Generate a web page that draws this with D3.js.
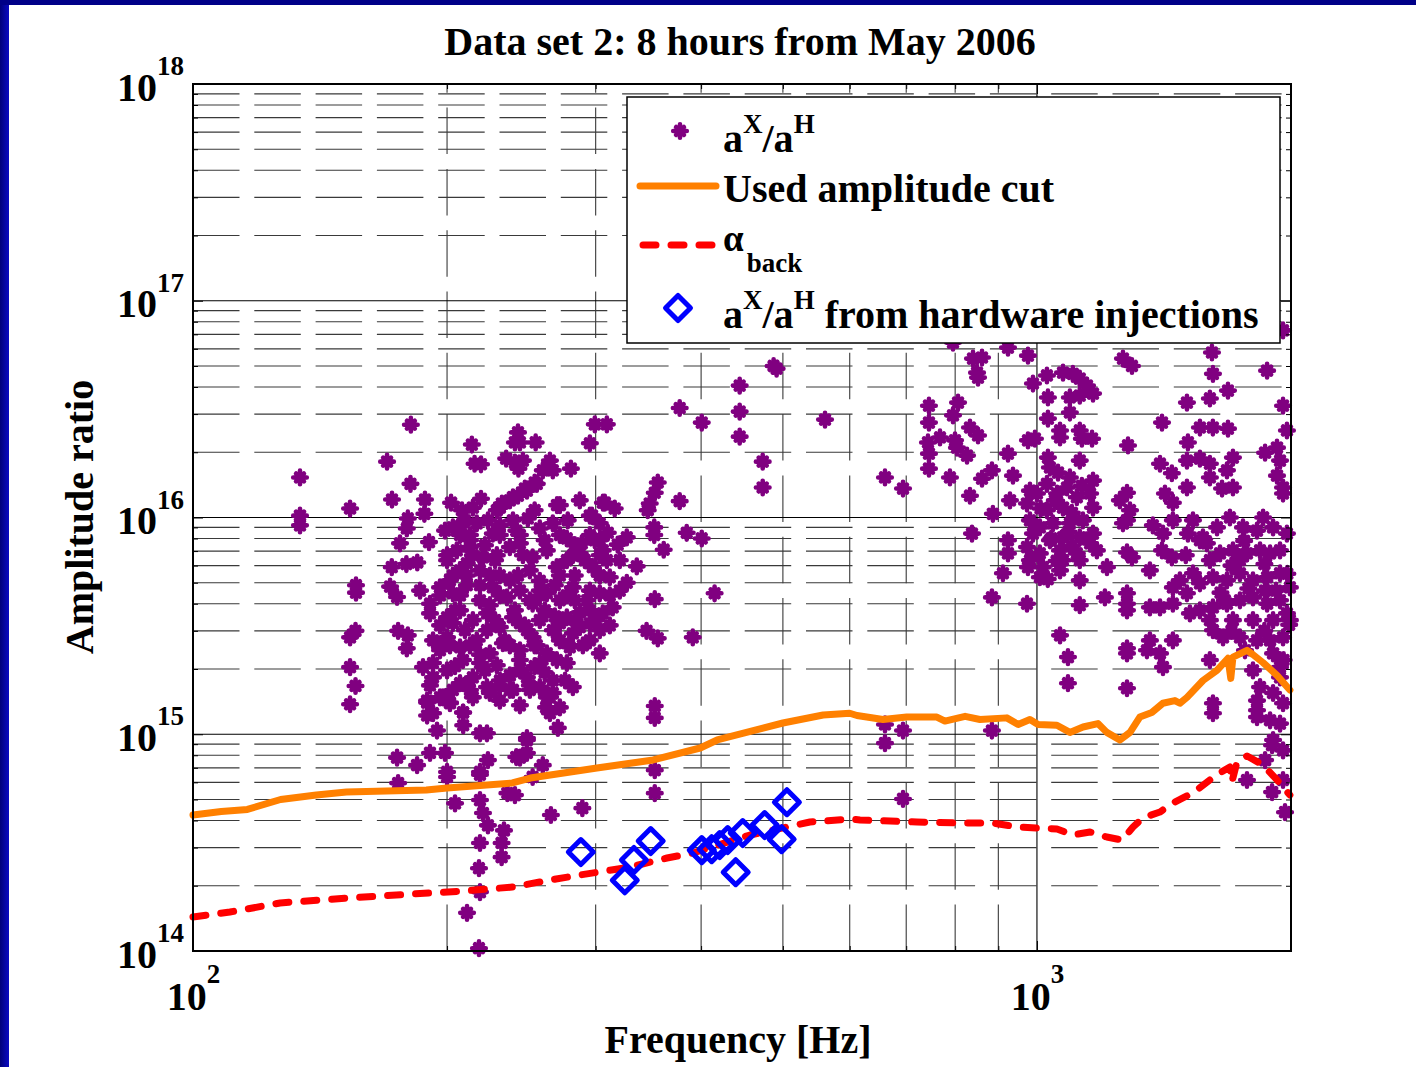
<!DOCTYPE html>
<html><head><meta charset="utf-8">
<script src="https://cdn.jsdelivr.net/npm/d3@7"></script>
<style>
body{margin:0;background:#fff;}
svg{display:block;font-family:"Liberation Serif","Times New Roman",serif;font-weight:bold;}
</style>
</head><body>
<svg id="c" width="1416" height="1067"></svg>
<script>
// ---------------- data ----------------
const titleText = "Data set 2: 8 hours from May 2006";
const xLabelText = "Frequency [Hz]";
const yLabelText = "Amplitude ratio";
const xMajorTicks = [100, 1000];
const yMajorTicks = [1e14, 1e15, 1e16, 1e17, 1e18];
const xMinorTicks = [200, 300, 400, 500, 600, 700, 800, 900, 2000];
const yMinorMantissas = [2, 3, 4, 5, 6, 7, 8, 9];
const yDecades = [14, 15, 16, 17];

// "Used amplitude cut" [Hz, ratio]
const cutCurve = [[100,4.24e14],[108,4.4e14],[116,4.5e14],[127,5.0e14],[140,5.25e14],[152,5.41e14],[189,5.53e14],[200,5.65e14],[239,5.96e14],[251,6.28e14],[301,6.99e14],[351,7.61e14],[399,8.64e14],[418,9.41e14],[500,1.127e15],[558,1.227e15],[600,1.25e15],[612,1.22e15],[657,1.17e15],[701,1.2e15],[761,1.2e15],[778,1.15e15],[822,1.21e15],[856,1.17e15],[921,1.19e15],[950,1.11e15],[981,1.17e15],[1003,1.11e15],[1056,1.1e15],[1094,1.02e15],[1134,1.08e15],[1181,1.12e15],[1210,1.02e15],[1254,9.4e14],[1289,1.02e15],[1324,1.2e15],[1368,1.26e15],[1410,1.39e15],[1457,1.43e15],[1477,1.39e15],[1506,1.48e15],[1573,1.77e15],[1634,1.97e15],[1684,2.24e15],[1697,1.81e15],[1707,2.27e15],[1774,2.44e15],[1803,2.33e15],[1853,2.14e15],[1925,1.87e15],[1994,1.6e15]];

// alpha_back [Hz, ratio]
const backCurve = [[100,1.435e14],[110.6,1.513e14],[126.8,1.665e14],[152.2,1.756e14],[182.3,1.832e14],[208.9,1.891e14],[239.4,1.973e14],[264.8,2.126e14],[287,2.24e14],[329.5,2.44e14],[364.5,2.686e14],[391.2,2.833e14],[457.1,3.43e14],[538.3,3.937e14],[600.4,4.064e14],[617.1,4.021e14],[720.7,3.937e14],[810.2,3.895e14],[887.2,3.895e14],[946.9,3.734e14],[1000,3.694e14],[1056,3.655e14],[1103,3.43e14],[1156,3.54e14],[1210,3.357e14],[1261.5,3.252e14],[1299.7,3.734e14],[1335,4.108e14],[1398.7,4.378e14],[1449,4.818e14],[1530,5.358e14],[1603,6.152e14],[1647,6.626e14],[1693,7.064e14],[1702,6.023e14],[1726,7.447e14],[1774,7.938e14],[1853,7.214e14],[1925,6.152e14],[1994,5.245e14]];

// hardware injections [Hz, ratio]
const injections = [[288.1,2.86e14],[324.8,2.12e14],[333,2.63e14],[348.6,3.215e14],[400.7,2.92e14],[411.7,2.95e14],[420.8,3.08e14],[430.1,3.25e14],[448.1,3.5e14],[475.7,3.81e14],[498.3,3.28e14],[505.5,4.86e14],[439.6,2.31e14]];

// candidates a^X/a^H [Hz, ratio]
const candidatesLowBand = [
[133.9,1.53e16],[133.9,1.02e16],[133.9,9.2e15],[153.5,1.10e16],[169.8,1.81e16],[181.2,2.68e16],[181,1.43e16],[172.1,1.21e16],[188.3,1.21e16],[188,1.04e16],[179.7,9.9e15],[179.2,8.9e15],[175.9,7.6e15],[190.4,7.7e15],[172,5.9e15],[179,6.1e15],[184.4,6.2e15],[185.8,4.6e15],[171.2,4.8e15],[174.5,4.3e15],[156,4.87e15],[156,4.5e15],[155.8,3.0e15],[153.5,2.8e15],[175,3.0e15],[179.7,2.86e15],[179.2,2.49e15],[153.5,2.04e15],[155.8,1.67e15],[153.5,1.375e15],
[202.2,1.17e16],[214,2.17e16],[215.6,1.77e16],[219.4,1.76e16],[219.4,1.22e16],[242.7,2.47e16],[240.7,2.22e16],[244,2.22e16],[254.7,2.22e16],[235,1.87e16],[240.7,1.79e16],[246,1.83e16],[243,1.68e16],[264.8,1.83e16],[259.7,1.65e16],[266.9,1.65e16],[280.4,1.68e16],[255.5,1.43e16],[248.7,1.33e16],[242.7,1.26e16],[237.4,1.2e16],[231,1.11e16],[270,1.14e16],[295.3,2.2e16],[299.3,2.69e16],[309.3,2.69e16],[377.3,3.2e16],[400.7,2.74e16],[355.4,1.45e16],[352.5,1.3e16],[347.7,1.16e16],[345.8,1.08e16],[377.3,1.19e16],[306,1.17e16],[316,1.1e16],[297,1.02e16],[352,9.0e15],[352,8.3e15],[361.2,7.1e15],[326.6,8.1e15],[384.6,8.5e15],[400.7,8.0e15],[335.6,5.95e15],[326.6,5.0e15],[352.5,4.2e15],[344.7,3.0e15],[355.4,2.77e15],[391,2.8e15],[415,4.47e15],[303.4,2.36e15],[281.9,1.65e15],[352.5,1.35e15],[352.5,1.19e15],[270.6,1.07e15],[352.5,6.83e14],[352.5,5.35e14],[248.7,9.4e14],[244,7.8e14],[259.7,7.2e14],[223.6,7.6e14],[218.8,6.7e14],[174.5,7.8e14],[184.3,7.2e14],[190.9,8.2e14],[198.9,8.2e14],[200,6.7e14],[194.6,1.04e15],[218.8,1.01e15],[223,1.01e15],[209,1.1e15],[209,1.26e15],[189.4,1.4e15],[189.4,1.22e15],[197.8,1.48e15],[201.6,1.4e15],[262,1.33e15],[264.8,1.25e15],[264.8,1.48e15],
[289.3,4.56e14],[265.5,4.24e14],[248.7,9.6e14],[248.7,8.2e14],[241.6,7.85e14],[218.8,6.5e14],[218.8,4.97e14],[220.6,4.33e14],[223.6,3.8e14],[233.6,3.6e14],[232.1,3.15e14],[232.1,2.71e14],[218.8,3.15e14],[218.2,2.41e14],[218.8,1.87e14],[211.2,1.5e14],[218.2,1.03e14],[204.4,4.8e14],[200,6.35e14],[175,5.95e14],[235.8,5.35e14],[240.7,5.24e14],[252.6,6.35e14],
[208.3,1.08e16],[214.6,1.11e16],[229.1,1.08e16],[232.3,1.16e16],[239.4,1.24e16],[247.3,1.36e16],[254,1.45e16],[272.1,1.14e16],[295.3,1.02e16],[307.6,1.17e16],[303.4,9.4e15],
[203.2,9.0e15],[208.9,9.5e15],[216.9,9.4e15],[223.6,9.7e15],[239.4,9.7e15],[249.3,9.9e15],[257.6,8.9e15],[266.9,9.4e15],[277.3,8.0e15],[288.9,7.6e15],[299.3,7.85e15],[310.1,8.5e15],[305.9,7.05e15],
[205.4,7.05e15],[212.9,7.3e15],[220.6,6.55e15],[211.1,6.15e15],[218.8,5.7e15],[237.4,7.3e15],[244,7.6e15],[252.6,6.55e15],[262.6,7.05e15],[269.8,5.9e15],[277.3,6.35e15],[287.3,6.83e15],[297.6,5.9e15],[309.3,6.35e15],[311.8,5.3e15],
[190.9,4.0e15],[196.2,4.76e15],[203.2,4.47e15],[211.1,4.87e15],[218.8,4.15e15],[226.6,4.76e15],[235.5,4.28e15],[244,4.6e15],[252.6,4.0e15],[262.6,4.47e15],[272.1,4.15e15],[281.9,4.76e15],[293.1,4.15e15],[303.4,4.47e15],[314.3,3.85e15],[305.9,3.61e15],
[190.9,3.61e15],[200,3.46e15],[207.2,3.73e15],[214.6,3.36e15],[223,3.61e15],[231,3.12e15],[239.4,3.46e15],[248.7,3.02e15],[257.6,3.36e15],[266.9,3.02e15],[277.3,3.46e15],[287.3,3.12e15],[299.3,3.36e15],[303.4,3.02e15],
[192.5,2.71e15],[200,2.8e15],[207.2,2.52e15],[216.9,2.71e15],[224.8,2.36e15],[232.9,2.63e15],[244,2.44e15],[252.6,2.8e15],[262.6,2.36e15],[272.1,2.71e15],[281.9,2.92e15],[279.6,2.52e15],[269.8,2.2e15],[208.9,2.2e15],
[187.3,2.04e15],[192.5,1.83e15],[200,1.97e15],[207.2,1.72e15],[214.6,1.83e15],[223,1.65e15],[231,1.77e15],[239.4,1.6e15],[248.7,1.83e15],[257.6,1.65e15],[266.9,1.77e15],[262.6,1.48e15],[203.2,1.6e15],
[189.4,1.43e15],[196.2,1.48e15],[201.6,1.39e15],[208.9,1.26e15],[214.6,1.48e15],[224.8,1.55e15],[237.4,1.6e15],[266.9,1.55e15],[272.1,1.33e15],[192.5,1.25e15],
[226.6,8.43e15],[212.9,8.3e15],[250.7,5.7e15],[231,5.4e15],[203.2,5.4e15],[257.6,5.1e15],[240.7,3.73e15],[223,3.02e15],[257.6,2.12e15],[244,2.0e15],[287.3,3.65e15],[295.3,2.71e15],[320.4,4.6e15],[320.4,6.35e15],[200,6.35e15],[196.2,3.18e15],[229.1,2.08e15],[283.4,5.4e15],
[207.2,8.3e15],[231,8.3e15],[244,8.3e15],[272.1,8.3e15],[295.3,8.3e15],[200,6.7e15],[214.6,6.7e15],[229.1,6.7e15],[246,6.7e15],[281.9,6.7e15],[303.4,6.7e15],[211.1,5.4e15],[224.8,5.4e15],[242.7,5.4e15],[272.1,5.4e15],[303.4,5.4e15],[196.2,4.37e15],[207.2,4.37e15],[231,4.37e15],[257.6,4.37e15],[277.3,4.37e15],[311.8,4.37e15],[203.2,3.25e15],[244,3.25e15],[272.1,3.25e15],[295.3,3.25e15],[196.2,2.57e15],[212.9,2.57e15],[237.4,2.57e15],[255.5,2.57e15],[289.7,2.57e15],[192.5,2.13e15],[218.8,2.13e15],[277.3,2.13e15],[211.1,1.68e15],[231,1.68e15],[250.7,1.68e15],
[212.9,7.85e15],[228,6.35e15],[257.6,4.6e15],[272.1,3.36e15],[244,2.2e15],[291.3,6.35e15],[204.4,3.73e15],[224.8,3.94e15],[247.3,3.18e15],[261.2,3.73e15],[283.4,4.15e15],[234.2,2.71e15],[218.8,2.33e15],[204.4,2.06e15],[254,2.06e15],[276,1.77e15],[212.9,1.6e15],[244,1.36e15],[196.2,2.44e15],[303.4,5.4e15],[318.6,7.5e15],[231,9.2e15],[254,1.08e16],[278,9.7e15],[287.3,1.2e16],[198.9,8.7e15],[207.2,5.7e15],[237.4,5.13e15],[295.3,3.73e15],[311.8,3.18e15],
[210,9.7e15],[221.8,7.45e15],[241.6,8.7e15],[261,7.85e15],[283.4,7.45e15],[303.4,7.85e15],[201.6,5.13e15],[218.8,4.87e15],[250.7,4.15e15],[268.4,4.87e15],[295.3,4.6e15],[210,3.02e15],[228,3.36e15],[254,2.57e15],[268.4,3.5e15],[283.4,3.36e15],[201.6,2.57e15],[221.8,1.97e15],[237.4,1.87e15],[261,1.93e15],[190.9,1.68e15],[231,1.43e15],[250.7,1.6e15],
[444.4,4.06e16],[444.4,3.08e16],[444.4,2.36e16],[473.2,1.81e16],[473.2,1.375e16],[487.5,5.0e16],[491.5,4.86e16],[560.9,2.83e16]
];
const candidatesHighBand = [
[660.6,1.53e16],[693.9,1.36e16],[744.8,3.28e16],[744.8,2.74e16],[742.8,2.22e16],[744.8,1.97e16],[744.8,1.68e16],[767.6,2.34e16],[806.3,3.39e16],[795.3,2.96e16],[799.7,2.27e16],[804,2.1e16],[826.3,1.93e16],[788.7,1.53e16],[833,2.6e16],[851.5,2.39e16],[833,1.26e16],[860.8,1.51e16],[884.4,1.65e16],[886.8,1.04e16],[837.6,8.43e15],[839.9,5.41e16],[860.8,5.47e16],[849.2,4.66e16],[851.5,4.42e16],[924,6.08e16],[975.8,5.58e16],[795.3,6.41e16],[924,1.97e16],[936.7,1.56e16],[929,1.2e16],[989.2,4.15e16],[1027.6,4.52e16],[1073.7,4.66e16],[1103,4.6e16],[1124,4.37e16],[1146.4,4.06e16],[1165.3,3.73e16],[1124,3.65e16],[1094,3.58e16],[1030.4,3.58e16],[1094,3.05e16],[1030.4,2.86e16],[1065,2.52e16],[1065,2.34e16],[1124,2.52e16],[1130.4,2.31e16],[1162.2,2.31e16],[994.5,2.31e16],[975.8,2.27e16],[1124,1.83e16],[1030.4,1.89e16],[1036,1.7e16],[1059.2,1.61e16],[1094,1.53e16],[1130.4,1.4e16],[1165.3,1.48e16],[1282,2.15e16],[1264.5,5.41e16],[1296,5.0e16],[1406.6,2.74e16],[1505.7,3.39e16],[1603,3.54e16],[1684,3.85e16],[1616.4,4.6e16],[1612,5.77e16],[1873.7,4.76e16],[1957,3.28e16],[1978,2.52e16],[1560,2.6e16],[1616,2.6e16],[1684,2.57e16],[1509.7,2.22e16],[1505.7,1.83e16],[1560,1.87e16],[1603,1.77e16],[1707,1.89e16],[1679.4,1.65e16],[1399,1.77e16],[1445,1.6e16],[1418,1.29e16],[1449,1.17e16],[1505.7,1.375e16],[1603,1.53e16],[1657,1.36e16],[1707,1.375e16],[1863.5,1.99e16],[1925,2.1e16],[1941,1.83e16],[1925,1.56e16],[1957,1.375e16],[1957,1.29e16],[1957,7.3e16],
[981.1,1.33e16],[973.2,1.16e16],[1000,1.29e16],[1027.6,1.43e16],[1056.4,1.29e16],[1085.4,1.375e16],[1115,1.24e16],[1156,1.29e16],[1165.3,1.11e16],[1073.7,1.11e16],[1027.6,1.08e16],[981.1,9.7e15],[1008,9.0e15],[1044.6,9.4e15],[1094,9.4e15],[1133.6,9.7e15],[1165.3,8.43e15],[1124,8.1e15],[1073.7,8.1e15],[1036,7.85e15],[989.2,8.43e15],[973.2,7.3e15],[1008,6.83e15],[1065,7.05e15],[1115,6.83e15],[1156,7.6e15],[1177.7,7.05e15],[981.1,6.35e15],[1016.3,5.9e15],[1073.7,6.35e15],[1124,6.35e15],[1065,5.7e15],[1008,5.3e15],[1124,5.13e15],[1210.5,5.9e15],[924,7.85e15],[924,6.83e15],[911.4,5.53e15],[975.8,5.9e15],[973.2,4.0e15],[884.4,4.28e15],[1065,2.86e15],[1088.3,2.27e15],[1088.3,1.72e15],[1124,3.94e15],[1203.7,4.28e15],[1278.5,4.0e15],[1278.5,4.47e15],[1278.5,3.73e15],[1278.5,2.49e15],[1278.5,2.36e15],[1278.5,1.63e15],[1254,1.2e16],[1278.5,1.3e16],[1289,1.08e16],[1278.5,9.7e15],[1264.5,9.4e15],[1278.5,6.9e15],[1296,6.55e15],[1361,5.7e15],
[1050,1.2e16],[1100,1.05e16],[1040,8.0e15],[1090,8.6e15],[1010,1.1e16],[1055,6.3e15],[1100,7.4e15],[1030,5.2e15],
[1372,9.2e15],[1410.4,8.43e15],[1449,9.7e15],[1406.6,7.05e15],[1445,6.55e15],[1509.7,8.43e15],[1530.6,9.7e15],[1572.9,8.1e15],[1634.4,9.0e15],[1693,1.0e16],[1754.4,9.0e15],[1822.9,8.7e15],[1853.3,1.0e16],[1904.6,9.0e15],[1978,8.43e15],[1941,7.05e15],[1889,6.83e15],[1838,7.05e15],[1773.7,6.83e15],[1707,7.05e15],[1648,6.83e15],[1603,6.35e15],[1530.6,5.53e15],[1477,5.13e15],[1449,4.76e15],[1505.7,4.47e15],[1560,4.97e15],[1616.4,5.3e15],[1679.4,5.13e15],[1740,5.53e15],[1802.9,5.13e15],[1873.7,5.3e15],[1941,5.53e15],[1994,4.76e15],[1941,4.15e15],[1873.7,4.0e15],[1802.9,4.28e15],[1740,4.15e15],[1679.4,4.0e15],[1616.4,3.85e15],[1560,3.73e15],[1518,3.61e15],[1449,4.0e15],[1399,3.85e15],[1361,3.85e15],[1603,3.36e15],[1707,3.36e15],[1802.9,3.36e15],[1904.6,3.36e15],[1978,3.61e15],[1957,2.8e15],[1889,2.71e15],[1822.9,2.71e15],[1740,2.8e15],[1661.5,2.8e15],[1616.4,3.02e15],[1449,2.71e15],[1399,2.36e15],[1361,2.71e15],[1350,2.44e15],[1410.4,2.04e15],[1603,2.2e15],[1904.6,2.36e15],[1941,2.04e15],[1941,1.83e15],[1802.9,1.97e15],[1838,1.65e15],[1822.9,1.43e15],[1822.9,1.29e15],[1904.6,1.55e15],[1957,1.39e15],[1889,1.16e15],[1941,1.12e15],[1904.6,9.4e14],[1957,8.43e14],[1616.4,1.39e15],[1616.4,1.25e15],
[1590,7.6e15],[1760,7.8e15],[1860,6.1e15],[1700,6.0e15],[1650,4.5e15],[1780,4.7e15],[1920,4.6e15],[1860,3.0e15],[1700,3.0e15],[1980,5.5e15],[1990,3.2e15],[1960,2.2e15],
[1740,6.35e15],[1560,7.85e15],[1863.5,4.6e15],[1670,4.15e15],[1501,6.7e15],[1994,3.36e15],[1764,2.44e15],
[660.6,1.11e15],[660.6,9.1e14],[693.9,1.04e15],[693.9,5.03e14],[884.4,1.04e15],[1773.7,6.15e14],[1899.4,5.41e14],[1967.6,4.37e14],[1822.9,1.2e15],[1863.5,7.6e14],[1899.4,8.9e14],[1957,6.15e14]
];
const candidates = candidatesLowBand.concat(candidatesHighBand);

// ---------------- drawing ----------------
const W = 1416, H = 1067;
const M = {left: 193, top: 84, right: 1291, bottom: 951};
const x = d3.scaleLog().domain([100, 2000]).range([M.left, M.right]);
const y = d3.scaleLog().domain([1e14, 1e18]).range([M.bottom, M.top]);

const PURPLE = "#800080", ORANGE = "#ff8000", RED = "#ff0000", BLUE = "#0000ff";
const svg = d3.select("#c");
const defs = svg.append("defs");
const lg = defs.append("linearGradient").attr("id", "edge").attr("x1", "0").attr("x2", "1").attr("y1", "0").attr("y2", "0");
lg.append("stop").attr("offset", "0").attr("stop-color", "#00007a");
lg.append("stop").attr("offset", "1").attr("stop-color", "#0a0ac4");

svg.append("rect").attr("width", W).attr("height", H).attr("fill", "#fff");
svg.append("rect").attr("x", 0).attr("y", 0).attr("width", 9).attr("height", H).attr("fill", "url(#edge)");
svg.append("rect").attr("x", 0).attr("y", 0).attr("width", W).attr("height", 5).attr("fill", "#000088");

// grid
const yMinor = yDecades.flatMap(e => yMinorMantissas.map(m => m * Math.pow(10, e)));
const grid = svg.append("g");
grid.selectAll("line.hmin").data(yMinor).join("line")
  .attr("x1", M.left).attr("x2", M.right).attr("y1", d => y(d)).attr("y2", d => y(d))
  .attr("stroke", "#3a3a3a").attr("stroke-width", 1.1).attr("stroke-dasharray", "46.5,14.8");
grid.selectAll("line.vmin").data(xMinorTicks).join("line")
  .attr("x1", d => x(d)).attr("x2", d => x(d)).attr("y1", M.bottom).attr("y2", M.top)
  .attr("stroke", "#3a3a3a").attr("stroke-width", 1.1).attr("stroke-dasharray", "46.5,14.8");
grid.selectAll("line.hmaj").data(yMajorTicks.slice(1, -1)).join("line")
  .attr("x1", M.left).attr("x2", M.right).attr("y1", d => y(d)).attr("y2", d => y(d))
  .attr("stroke", "#000").attr("stroke-width", 1.1);
grid.selectAll("line.vmaj").data(xMajorTicks.slice(1)).join("line")
  .attr("x1", d => x(d)).attr("x2", d => x(d)).attr("y1", M.bottom).attr("y2", M.top)
  .attr("stroke", "#000").attr("stroke-width", 1.1);

// star marker (MATLAB '*' with heavy line width)
function starPath(r) {
  const s = r * 0.58;
  return `M${-r},0H${r}M0,${-r}V${r}M${-s},${-s}L${s},${s}M${-s},${s}L${s},${-s}`;
}
const STAR = starPath(6.8);
const STAR_W = 4.6;
svg.append("g").selectAll("path").data(candidates).join("path")
  .attr("transform", d => `translate(${x(d[0])},${y(d[1])})`)
  .attr("d", STAR).attr("fill", "none").attr("stroke", PURPLE)
  .attr("stroke-width", STAR_W).attr("stroke-linecap", "round");

const line = d3.line().x(d => x(d[0])).y(d => y(d[1]));
svg.append("path").datum(cutCurve).attr("d", line).attr("fill", "none")
  .attr("stroke", ORANGE).attr("stroke-width", 7).attr("stroke-linejoin", "round").attr("stroke-linecap", "round");
svg.append("path").datum(backCurve).attr("d", line).attr("fill", "none")
  .attr("stroke", RED).attr("stroke-width", 7).attr("stroke-linejoin", "round")
  .attr("stroke-linecap", "round").attr("stroke-dasharray", "13,15");

const DIAM = "M0,-12.5L12.5,0L0,12.5L-12.5,0Z";
svg.append("g").selectAll("path").data(injections).join("path")
  .attr("transform", d => `translate(${x(d[0])},${y(d[1])})`)
  .attr("d", DIAM).attr("fill", "none").attr("stroke", BLUE).attr("stroke-width", 5).attr("stroke-linejoin", "round");

// axes (ticks inward)
function styleAxis(g) {
  g.select(".domain").remove();
  g.selectAll(".tick line").attr("stroke", "#000").attr("stroke-width", 1);
}
function expLabel(textSel, supDy) {
  textSel.each(function (d) {
    const t = d3.select(this);
    t.text(null).attr("fill", "#000").attr("font-size", 40).attr("font-weight", "bold")
      .attr("font-family", '"Liberation Serif","Times New Roman",serif');
    t.append("tspan").text("10");
    t.append("tspan").attr("dy", supDy).attr("font-size", 27).text(Math.round(Math.log10(d)));
  });
}
const gxB = svg.append("g").attr("transform", `translate(0,${M.bottom})`)
  .call(d3.axisBottom(x).tickValues(xMajorTicks).tickSizeInner(-10).tickSizeOuter(0).tickPadding(0));
styleAxis(gxB);
gxB.selectAll(".tick text").attr("y", 59).attr("dy", 0).call(expLabel, -27);
const gxBm = svg.append("g").attr("transform", `translate(0,${M.bottom})`)
  .call(d3.axisBottom(x).tickValues(xMinorTicks).tickSizeInner(-5).tickSizeOuter(0).tickFormat(""));
styleAxis(gxBm);
const gxT = svg.append("g").attr("transform", `translate(0,${M.top})`)
  .call(d3.axisTop(x).tickValues(xMajorTicks).tickSizeInner(-10).tickSizeOuter(0).tickFormat(""));
styleAxis(gxT);
const gxTm = svg.append("g").attr("transform", `translate(0,${M.top})`)
  .call(d3.axisTop(x).tickValues(xMinorTicks).tickSizeInner(-5).tickSizeOuter(0).tickFormat(""));
styleAxis(gxTm);

const gyL = svg.append("g").attr("transform", `translate(${M.left},0)`)
  .call(d3.axisLeft(y).tickValues(yMajorTicks).tickSizeInner(-10).tickSizeOuter(0).tickPadding(0));
styleAxis(gyL);
gyL.selectAll(".tick text").attr("x", -9).attr("y", 16).attr("dy", 0).call(expLabel, -25.5);
const gyLm = svg.append("g").attr("transform", `translate(${M.left},0)`)
  .call(d3.axisLeft(y).tickValues(yMinor).tickSizeInner(-5).tickSizeOuter(0).tickFormat(""));
styleAxis(gyLm);
const gyR = svg.append("g").attr("transform", `translate(${M.right},0)`)
  .call(d3.axisRight(y).tickValues(yMajorTicks).tickSizeInner(-10).tickSizeOuter(0).tickFormat(""));
styleAxis(gyR);
const gyRm = svg.append("g").attr("transform", `translate(${M.right},0)`)
  .call(d3.axisRight(y).tickValues(yMinor).tickSizeInner(-5).tickSizeOuter(0).tickFormat(""));
styleAxis(gyRm);

svg.append("rect").attr("x", M.left).attr("y", M.top)
  .attr("width", M.right - M.left).attr("height", M.bottom - M.top)
  .attr("fill", "none").attr("stroke", "#000").attr("stroke-width", 2);

// titles
svg.append("text").attr("x", 740).attr("y", 55).attr("text-anchor", "middle")
  .attr("font-size", 40).text(titleText);
svg.append("text").attr("x", 738).attr("y", 1053).attr("text-anchor", "middle")
  .attr("font-size", 40).text(xLabelText);
svg.append("text").attr("transform", "translate(93,517) rotate(-90)").attr("text-anchor", "middle")
  .attr("font-size", 40).text(yLabelText);

// legend
const leg = svg.append("g");
leg.append("rect").attr("x", 627).attr("y", 97).attr("width", 653).attr("height", 246)
  .attr("fill", "#fff").attr("stroke", "#000").attr("stroke-width", 1.5);
leg.append("path").attr("transform", "translate(680,131)").attr("d", STAR)
  .attr("fill", "none").attr("stroke", PURPLE).attr("stroke-width", STAR_W).attr("stroke-linecap", "round");
leg.append("line").attr("x1", 640).attr("x2", 716).attr("y1", 186).attr("y2", 186)
  .attr("stroke", ORANGE).attr("stroke-width", 7).attr("stroke-linecap", "round");
leg.append("line").attr("x1", 643).attr("x2", 716).attr("y1", 245).attr("y2", 245)
  .attr("stroke", RED).attr("stroke-width", 7).attr("stroke-linecap", "round").attr("stroke-dasharray", "13,15");
leg.append("path").attr("transform", "translate(678,308)").attr("d", DIAM)
  .attr("fill", "none").attr("stroke", BLUE).attr("stroke-width", 5).attr("stroke-linejoin", "round");

function ratioLabel(yb, extra) {
  const t = leg.append("text").attr("x", 723).attr("y", yb).attr("font-size", 40);
  t.append("tspan").text("a");
  t.append("tspan").attr("dy", -19).attr("font-size", 27).text("X");
  t.append("tspan").attr("dy", 19).text("/a");
  t.append("tspan").attr("dy", -19).attr("font-size", 27).text("H");
  if (extra) t.append("tspan").attr("dy", 19).text(extra);
}
ratioLabel(152, null);
leg.append("text").attr("x", 723).attr("y", 202).attr("font-size", 40).text("Used amplitude cut");
const al = leg.append("text").attr("x", 723).attr("y", 251).attr("font-size", 40);
al.append("tspan").attr("font-size", 37).text("\u03b1");
al.append("tspan").attr("dx", 3).attr("dy", 21).attr("font-size", 27).text("back");
ratioLabel(328, " from hardware injections");
</script>
</body></html>
